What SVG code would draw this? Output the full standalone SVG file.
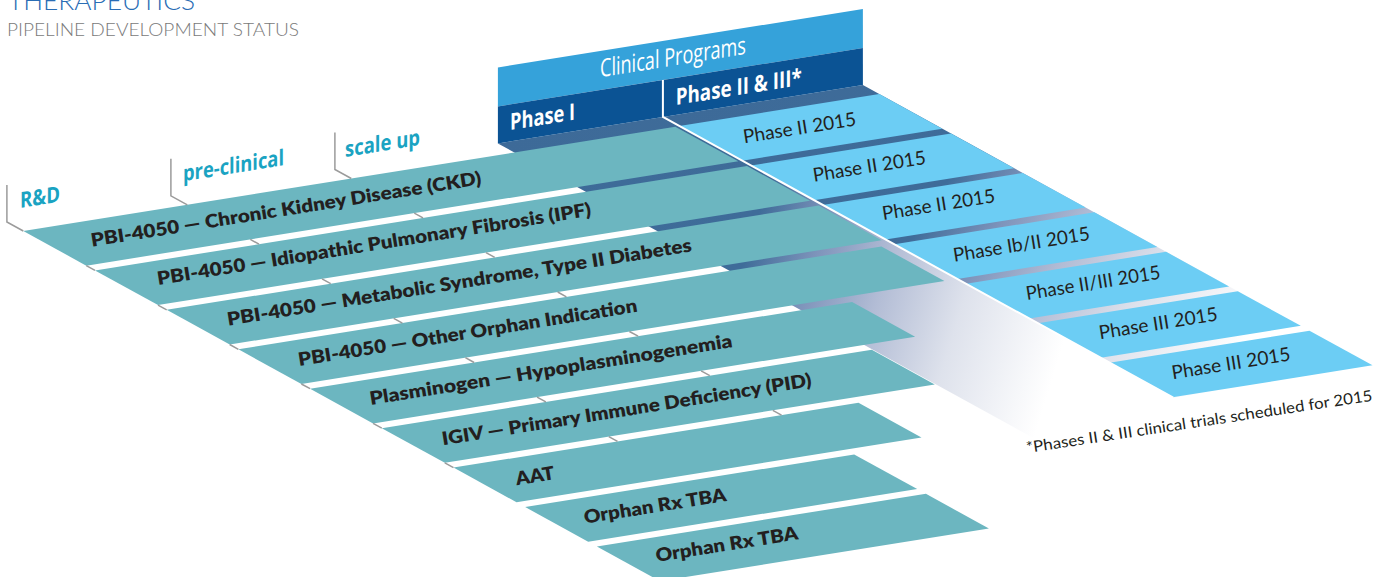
<svg xmlns="http://www.w3.org/2000/svg" width="1391" height="577" viewBox="0 0 1391 577">
  <style>
    .title { font-family: Lato, "Open Sans", sans-serif; font-weight: 300; }
    .bar-teal { fill: #6cb6c0; }
    .bar-sky { fill: #6ccdf4; }
    .prog { font-family: Lato, "Noto Sans", sans-serif; font-weight: 800; font-size: 18.5px; fill: #231f20; }
    .stat { font-family: Lato, "Noto Sans", sans-serif; font-weight: 400; font-size: 19px; fill: #231f20; }
    .head { font-family: "Open Sans", "Noto Sans", sans-serif; fill: #ffffff; }
    .stage { font-family: "Open Sans", "Noto Sans", sans-serif; font-weight: 700; font-size: 22px; fill: #1aa3c2; }
    .tick { fill: none; stroke: #9b9b9b; stroke-width: 1.5; }
    .note { font-family: Lato, "Noto Sans", sans-serif; font-weight: 400; font-size: 15.5px; fill: #231f20; }
  </style>
  <defs>
    <!-- floor shading under the clinical columns: dark near the header, fading to white -->
    <linearGradient id="floorP1" gradientUnits="userSpaceOnUse" x1="491" y1="-16.4" x2="753.5" y2="306.6">
      <stop offset="0" stop-color="#3d6a98"/>
      <stop offset="0.45" stop-color="#3f6c99"/>
      <stop offset="0.56" stop-color="#7d93ba"/>
      <stop offset="0.68" stop-color="#b2bcd5"/>
      <stop offset="0.82" stop-color="#dee2ec"/>
      <stop offset="1" stop-color="#ffffff"/>
    </linearGradient>
    <linearGradient id="floorP2" gradientUnits="userSpaceOnUse" x1="656" y1="-16.4" x2="904.1" y2="353.7">
      <stop offset="0" stop-color="#3d6a98"/>
      <stop offset="0.45" stop-color="#3f6c99"/>
      <stop offset="0.56" stop-color="#7d93ba"/>
      <stop offset="0.68" stop-color="#b2bcd5"/>
      <stop offset="0.82" stop-color="#dee2ec"/>
      <stop offset="1" stop-color="#ffffff"/>
    </linearGradient>
  </defs>

  <!-- page title -->
  <g id="title">
    <text class="title" x="8" y="10" font-size="25" fill="#2a6db5" textLength="187" lengthAdjust="spacingAndGlyphs">THERAPEUTICS</text>
    <text class="title" x="7" y="36" font-size="17.5" fill="#7a7a7a" textLength="292" lengthAdjust="spacingAndGlyphs">PIPELINE DEVELOPMENT STATUS</text>
  </g>

  <!-- floor plane: x = stage position, y = row depth -->
  <g id="floor" transform="matrix(1 -0.16 1 0.55 23.3 231)">
    <rect x="491" y="-16.4" width="165" height="536" fill="url(#floorP1)"/>
    <rect x="656" y="-16.4" width="200" height="510.4" fill="url(#floorP2)"/>

    <g id="row-ckd"><rect class="bar-teal" x="0" y="0" width="652" height="63"/></g>
    <g id="row-ipf"><rect class="bar-teal" x="0" y="71.7" width="652" height="63"/></g>
    <g id="row-metabolic"><rect class="bar-teal" x="0" y="143.4" width="652" height="63"/></g>
    <g id="row-orphan"><rect class="bar-teal" x="0" y="215.1" width="643" height="63"/></g>
    <g id="row-plasminogen"><rect class="bar-teal" x="0" y="286.8" width="542" height="63"/></g>
    <g id="row-igiv"><rect class="bar-teal" x="0" y="358.5" width="490" height="63"/></g>
    <g id="row-aat"><rect class="bar-teal" x="0" y="430.2" width="405" height="63"/></g>
    <g id="row-tba1"><rect class="bar-teal" x="0" y="501.9" width="329" height="63"/></g>
    <g id="row-tba2"><rect class="bar-teal" x="0" y="573.6" width="329" height="63"/></g>

    <g id="phase2-bars">
      <rect class="bar-sky" x="656" y="0" width="200" height="63"/>
      <rect class="bar-sky" x="656" y="71.7" width="200" height="63"/>
      <rect class="bar-sky" x="656" y="143.4" width="200" height="63"/>
      <rect class="bar-sky" x="656" y="215.1" width="200" height="63"/>
      <rect class="bar-sky" x="656" y="286.8" width="200" height="63"/>
      <rect class="bar-sky" x="656" y="358.5" width="200" height="63"/>
      <rect class="bar-sky" x="656" y="430.2" width="200" height="63"/>
    </g>
  </g>

  <!-- stage dividers: upright post, then marks in the gaps between rows -->
  <g id="connectors">
    <polyline class="tick" points="6.9,185 6.9,222 23.3,231"/>
    <polyline class="tick" points="170.9,158.8 170.9,195.8 187.3,204.8"/>
    <polyline class="tick" points="334.9,132.5 334.9,169.5 351.3,178.5"/>
    <g class="tick">
      <line x1="86.3" y1="265.7" x2="95" y2="270.4"/>
      <line x1="158" y1="305.1" x2="166.7" y2="309.9"/>
      <line x1="229.7" y1="344.5" x2="238.4" y2="349.3"/>
      <line x1="301.4" y1="384" x2="310.1" y2="388.7"/>
      <line x1="250.3" y1="239.4" x2="259" y2="244.2"/>
      <line x1="322" y1="278.9" x2="330.7" y2="283.6"/>
      <line x1="393.7" y1="318.3" x2="402.4" y2="323.1"/>
      <line x1="465.4" y1="357.7" x2="474.1" y2="362.5"/>
      <line x1="414.3" y1="213.2" x2="423" y2="217.9"/>
      <line x1="486" y1="252.6" x2="494.7" y2="257.4"/>
      <line x1="557.7" y1="292" x2="566.4" y2="296.8"/>
      <line x1="629.4" y1="331.5" x2="638.1" y2="336.2"/>
    </g>
    <g class="tick" stroke="#b8b8b8">
      <line x1="373.1" y1="423.4" x2="381.8" y2="428.2"/>
      <line x1="537.1" y1="397.2" x2="545.8" y2="401.9"/>
      <line x1="701.1" y1="370.9" x2="709.8" y2="375.7"/>
    </g>
    <g class="tick" stroke="#d6d6d6">
      <line x1="444.8" y1="462.8" x2="453.5" y2="467.6"/>
      <line x1="608.8" y1="436.6" x2="617.5" y2="441.4"/>
      <line x1="772.8" y1="410.3" x2="781.5" y2="415.1"/>
    </g>
  </g>

  <!-- upright header face -->
  <g id="header" transform="matrix(1 -0.16 0 1 6.9 222)">
    <g id="clinical-programs">
      <rect x="491" y="-76" width="365" height="39" fill="#35a2da"/>
      <text class="head" x="593.1" y="-49.8" font-size="25" textLength="146" lengthAdjust="spacingAndGlyphs">Clinical Programs</text>
    </g>
    <g id="phase-1">
      <rect x="491" y="-37" width="165" height="37" fill="#0b5394"/>
      <text class="head" x="503.1" y="-11.5" font-size="23" font-weight="700" textLength="65" lengthAdjust="spacingAndGlyphs">Phase I</text>
    </g>
    <g id="phase-2-3">
      <rect x="656" y="-37" width="200" height="37" fill="#0b5394"/>
      <text class="head" x="668.8" y="-10" font-size="23" font-weight="700" textLength="126" lengthAdjust="spacingAndGlyphs">Phase II &amp; III*</text>
    </g>
    <g id="stage-rd"><text class="stage" x="13.1" y="-12" textLength="40" lengthAdjust="spacingAndGlyphs">R&amp;D</text></g>
    <g id="stage-preclinical"><text class="stage" x="176.1" y="-12.5" textLength="101" lengthAdjust="spacingAndGlyphs">pre-clinical</text></g>
    <g id="stage-scaleup"><text class="stage" x="338.1" y="-11" textLength="75" lengthAdjust="spacingAndGlyphs">scale up</text></g>
  </g>

  <!-- edge of the Phase II & III block -->
  <polyline points="662.9,80 662.9,117 1173.3,397.7" fill="none" stroke="#ffffff" stroke-width="2"/>

  <!-- programme labels -->
  <g id="program-labels">
    <text class="prog" transform="translate(92 246.7) rotate(-9.1)" textLength="395" lengthAdjust="spacingAndGlyphs">PBI-4050 — Chronic Kidney Disease (CKD)</text>
    <text class="prog" transform="translate(158.3 285) rotate(-9.1)" textLength="439" lengthAdjust="spacingAndGlyphs">PBI-4050 — Idiopathic Pulmonary Fibrosis (IPF)</text>
    <text class="prog" transform="translate(228.3 325.7) rotate(-9.1)" textLength="470" lengthAdjust="spacingAndGlyphs">PBI-4050 — Metabolic Syndrome, Type II Diabetes</text>
    <text class="prog" transform="translate(299.3 366) rotate(-9.1)" textLength="343" lengthAdjust="spacingAndGlyphs">PBI-4050 — Other Orphan Indication</text>
    <text class="prog" transform="translate(370.7 405) rotate(-9.1)" textLength="367" lengthAdjust="spacingAndGlyphs">Plasminogen — Hypoplasminogenemia</text>
    <text class="prog" transform="translate(443 445.3) rotate(-9.1)" textLength="374" lengthAdjust="spacingAndGlyphs">IGIV — Primary Immune Deficiency (PID)</text>
    <text class="prog" transform="translate(516.7 485.3) rotate(-9.1)" textLength="39" lengthAdjust="spacingAndGlyphs">AAT</text>
    <text class="prog" transform="translate(585 523.7) rotate(-9.1)" textLength="144" lengthAdjust="spacingAndGlyphs">Orphan Rx TBA</text>
    <text class="prog" transform="translate(656.7 562) rotate(-9.1)" textLength="144" lengthAdjust="spacingAndGlyphs">Orphan Rx TBA</text>
  </g>

  <!-- trial status labels -->
  <g id="status-labels">
    <text class="stat" transform="translate(744.3 143.3) rotate(-9.1)" textLength="114" lengthAdjust="spacingAndGlyphs">Phase II 2015</text>
    <text class="stat" transform="translate(814 181.7) rotate(-9.1)" textLength="114" lengthAdjust="spacingAndGlyphs">Phase II 2015</text>
    <text class="stat" transform="translate(883.3 220) rotate(-9.1)" textLength="114" lengthAdjust="spacingAndGlyphs">Phase II 2015</text>
    <text class="stat" transform="translate(954.3 261.7) rotate(-9.1)" textLength="138" lengthAdjust="spacingAndGlyphs">Phase Ib/II 2015</text>
    <text class="stat" transform="translate(1027 300) rotate(-9.1)" textLength="136" lengthAdjust="spacingAndGlyphs">Phase II/III 2015</text>
    <text class="stat" transform="translate(1100 339.3) rotate(-9.1)" textLength="120" lengthAdjust="spacingAndGlyphs">Phase III 2015</text>
    <text class="stat" transform="translate(1172.7 379.3) rotate(-9.1)" textLength="120" lengthAdjust="spacingAndGlyphs">Phase III 2015</text>
  </g>

  <text class="note" transform="translate(1027 453) rotate(-8.6)" textLength="350" lengthAdjust="spacingAndGlyphs">*Phases II &amp; III clinical trials scheduled for 2015</text>
</svg>
